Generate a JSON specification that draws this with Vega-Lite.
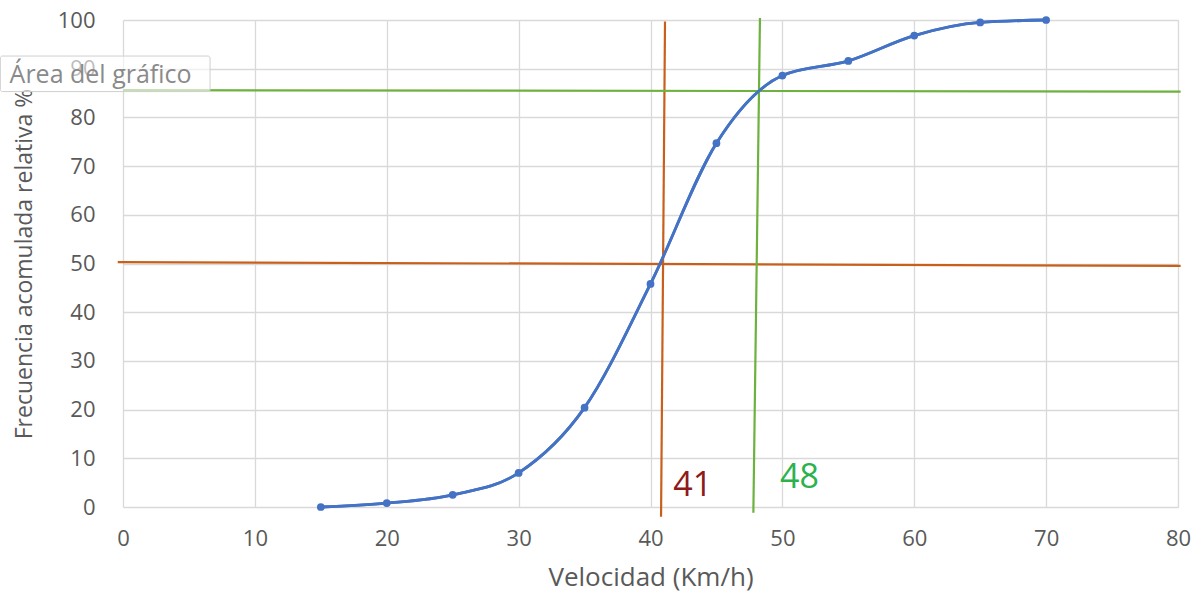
{
  "$schema": "https://vega.github.io/schema/vega-lite/v6.json",
  "autosize": "none",
  "width": 1055,
  "height": 487,
  "padding": {"left": 123, "top": 20, "right": 26, "bottom": 85},
  "background": "white",
  "config": {
    "view": {"stroke": null},
    "font": "Open Sans",
    "axis": {
      "labelFont": "Open Sans",
      "titleFont": "Open Sans",
      "labelColor": "#595959",
      "titleColor": "#595959",
      "gridColor": "#d9d9d9",
      "gridWidth": 1.3,
      "domain": false,
      "ticks": false,
      "labelFontSize": 22,
      "labelFlush": false,
      "titleFontWeight": "normal"
    }
  },
  "datasets": {
    "curve": [
      {"velocidad": 15, "frecuencia": 0},
      {"velocidad": 20, "frecuencia": 0.8},
      {"velocidad": 25, "frecuencia": 2.5},
      {"velocidad": 30, "frecuencia": 7.0},
      {"velocidad": 35, "frecuencia": 20.4},
      {"velocidad": 40, "frecuencia": 45.8},
      {"velocidad": 45, "frecuencia": 74.7},
      {"velocidad": 50, "frecuencia": 88.6},
      {"velocidad": 55, "frecuencia": 91.6},
      {"velocidad": 60, "frecuencia": 96.8},
      {"velocidad": 65, "frecuencia": 99.5},
      {"velocidad": 70, "frecuencia": 100}
    ],
    "guides": [
      {"serie": "p50", "x1": -0.4, "y1": 50.3, "x2": 80.2, "y2": 49.5},
      {"serie": "p50", "x1": 41.1, "y1": 99.7, "x2": 40.8, "y2": -2.0},
      {"serie": "p85", "x1": 0, "y1": 85.6, "x2": 80.2, "y2": 85.3},
      {"serie": "p85", "x1": 48.3, "y1": 100.4, "x2": 47.8, "y2": -1.2}
    ],
    "labels": [
      {"serie": "p50", "texto": "41", "x": 43.2, "y": 4.3},
      {"serie": "p85", "texto": "48", "x": 51.3, "y": 6.0}
    ],
    "tooltip": [
      {"texto": "Área del gráfico", "x1": -9.3, "x2": 6.6, "y1": 85.3, "y2": 92.6, "tx": -8.6, "ty": 88.8}
    ]
  },
  "layer": [
    {
      "data": {"name": "curve"},
      "mark": {"type": "line", "interpolate": "monotone", "color": "#4472C4", "strokeWidth": 2.8},
      "encoding": {
        "x": {
          "field": "velocidad", "type": "quantitative",
          "scale": {"domain": [0, 80], "nice": false},
          "axis": {"values": [0,10,20,30,40,50,60,70,80], "title": "Velocidad (Km/h)", "titleFontSize": 26, "labelPadding": 21, "titlePadding": 15, "grid": true}
        },
        "y": {
          "field": "frecuencia", "type": "quantitative",
          "scale": {"domain": [0, 100], "nice": false},
          "axis": {"values": [0,10,20,30,40,50,60,70,80,90,100], "title": "Frecuencia acomulada relativa %", "titleFontSize": 23, "labelPadding": 28, "titlePadding": 21, "grid": true}
        }
      }
    },
    {
      "data": {"name": "guides"},
      "mark": {"type": "rule", "strokeWidth": 2.2},
      "encoding": {
        "x": {"field": "x1", "type": "quantitative"},
        "x2": {"field": "x2"},
        "y": {"field": "y1", "type": "quantitative"},
        "y2": {"field": "y2"},
        "color": {"field": "serie", "type": "nominal", "scale": {"domain": ["p50", "p85"], "range": ["#C8601C", "#6DB13F"]}, "legend": null}
      }
    },
    {
      "data": {"name": "curve"},
      "mark": {"type": "line", "interpolate": "monotone", "color": "#4472C4", "strokeWidth": 2.8},
      "encoding": {
        "x": {"field": "velocidad", "type": "quantitative"},
        "y": {"field": "frecuencia", "type": "quantitative"}
      }
    },
    {
      "data": {"name": "curve"},
      "mark": {"type": "circle", "color": "#4472C4", "opacity": 1, "size": 60},
      "encoding": {
        "x": {"field": "velocidad", "type": "quantitative"},
        "y": {"field": "frecuencia", "type": "quantitative"}
      }
    },
    {
      "data": {"name": "labels"},
      "mark": {"type": "text", "fontSize": 34, "font": "Open Sans", "align": "center", "baseline": "middle"},
      "encoding": {
        "x": {"field": "x", "type": "quantitative"},
        "y": {"field": "y", "type": "quantitative"},
        "text": {"field": "texto"},
        "color": {"field": "serie", "type": "nominal", "scale": {"domain": ["p50", "p85"], "range": ["#8E1B1B", "#2BB24C"]}, "legend": null}
      }
    },
    {
      "data": {"name": "tooltip"},
      "mark": {"type": "rect", "fill": "white", "fillOpacity": 0.6, "stroke": "#cfcfcf", "strokeWidth": 1, "cornerRadius": 2},
      "encoding": {
        "x": {"field": "x1", "type": "quantitative"},
        "x2": {"field": "x2"},
        "y": {"field": "y1", "type": "quantitative"},
        "y2": {"field": "y2"}
      }
    },
    {
      "data": {"name": "tooltip"},
      "mark": {"type": "text", "fontSize": 25, "font": "Open Sans", "align": "left", "baseline": "middle", "color": "#8a8a8a"},
      "encoding": {
        "x": {"field": "tx", "type": "quantitative"},
        "y": {"field": "ty", "type": "quantitative"},
        "text": {"field": "texto"}
      }
    }
  ],
  "resolve": {"scale": {"color": "independent"}}
}
